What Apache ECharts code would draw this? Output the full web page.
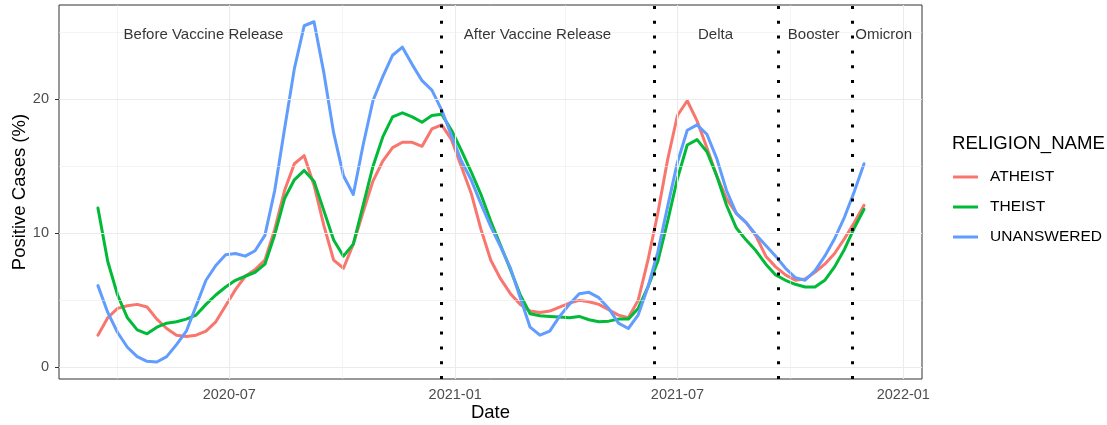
<!DOCTYPE html>
<html><head><meta charset="utf-8">
<script src="https://cdn.jsdelivr.net/npm/echarts@6/dist/echarts.min.js"></script>
<style>html,body{margin:0;padding:0;background:#fff}#c{width:1107px;height:425px}</style>
</head><body><div id="c"></div>
<script>
const dates = [
 '2020-03-16','2020-03-24','2020-04-01','2020-04-09','2020-04-17','2020-04-25','2020-05-03','2020-05-11','2020-05-19','2020-05-27',
 '2020-06-04','2020-06-12','2020-06-20','2020-06-28','2020-07-06','2020-07-14','2020-07-22','2020-07-30','2020-08-07','2020-08-15',
 '2020-08-23','2020-08-31','2020-09-08','2020-09-16','2020-09-24','2020-10-02','2020-10-10','2020-10-18','2020-10-26','2020-11-03',
 '2020-11-11','2020-11-19','2020-11-27','2020-12-05','2020-12-13','2020-12-21','2020-12-29','2021-01-06','2021-01-14','2021-01-22',
 '2021-01-30','2021-02-07','2021-02-15','2021-02-23','2021-03-03','2021-03-11','2021-03-19','2021-03-27','2021-04-04','2021-04-12',
 '2021-04-20','2021-04-28','2021-05-06','2021-05-14','2021-05-22','2021-05-30','2021-06-07','2021-06-15','2021-06-23','2021-07-01',
 '2021-07-09','2021-07-17','2021-07-25','2021-08-02','2021-08-10','2021-08-18','2021-08-26','2021-09-03','2021-09-11','2021-09-19',
 '2021-09-27','2021-10-05','2021-10-13','2021-10-21','2021-10-29','2021-11-06','2021-11-14','2021-11-22','2021-11-30'
];
const atheist = [
 2.4,3.7,4.4,4.6,4.7,4.5,3.6,2.9,2.4,2.3,
 2.4,2.7,3.4,4.6,5.8,6.8,7.3,8.0,10.3,13.2,
 15.2,15.8,13.6,10.6,8.0,7.4,9.2,11.6,13.9,15.4,
 16.4,16.8,16.8,16.5,17.8,18.1,17.0,15.0,13.0,10.3,
 8.0,6.6,5.5,4.7,4.2,4.1,4.2,4.5,4.8,5.0,
 4.9,4.7,4.3,3.9,3.7,5.0,8.0,11.5,15.5,18.8,
 19.9,18.4,16.4,14.3,12.6,11.5,10.8,9.8,8.3,7.5,
 6.9,6.5,6.6,7.1,7.7,8.5,9.6,10.8,12.1
];
const theist = [
 11.9,7.9,5.4,3.7,2.8,2.5,3.0,3.3,3.4,3.6,
 3.9,4.7,5.4,6.0,6.5,6.8,7.1,7.7,9.9,12.6,
 14.0,14.7,13.9,11.7,9.5,8.3,9.2,12.1,15.0,17.2,
 18.7,19.0,18.7,18.3,18.8,18.9,17.7,16.2,14.6,12.9,
 10.9,9.1,7.3,5.4,4.0,3.85,3.8,3.75,3.7,3.8,
 3.55,3.4,3.45,3.6,3.6,4.4,6.0,7.9,10.9,14.1,
 16.6,17.0,16.1,14.3,12.1,10.4,9.5,8.7,7.7,6.9,
 6.5,6.2,6.0,6.0,6.5,7.5,8.8,10.4,11.8
];
const unanswered = [
 6.1,4.1,2.6,1.5,0.8,0.45,0.4,0.8,1.7,2.7,
 4.6,6.5,7.6,8.4,8.5,8.3,8.7,9.85,13.2,17.8,
 22.3,25.5,25.8,22.0,17.5,14.3,12.9,16.6,19.9,21.7,
 23.3,23.9,22.6,21.4,20.7,19.2,17.3,15.4,14.0,12.2,
 10.5,9.0,7.4,5.2,3.0,2.4,2.7,3.8,4.7,5.5,
 5.6,5.2,4.4,3.3,2.9,3.9,6.0,8.6,12.0,15.3,
 17.7,18.1,17.4,15.6,13.2,11.5,10.8,9.9,9.1,8.3,
 7.4,6.7,6.5,7.2,8.3,9.6,11.2,13.1,15.2
];
const seriesNames = ['ATHEIST','THEIST','UNANSWERED'];
const seriesColors = ['#F8766D','#00BA38','#619CFF'];
const xMajorTicks = ['2020-07-01','2021-01-01','2021-07-01','2022-01-01'];
const xMinorGrid = ['2020-04-01','2020-10-01','2021-04-01','2021-10-01'];
const yMajorTicks = [0,10,20];
const yMinorGrid = [5,15,25];
const periodLines = ['2020-12-21','2021-06-12','2021-09-21','2021-11-20'];
const periodLabels = ['Before Vaccine Release','After Vaccine Release','Delta','Booster','Omicron'];
const periodLabelDates = ['2020-06-10','2021-03-09','2021-08-01','2021-10-20','2021-12-16'];
const periodLabelY = 25;
const xLimits = ['2020-02-13T07:00:00Z','2022-01-16T05:00:00Z'];
const yLimits = [-0.87, 27.05];

const ts = s => Date.parse(s.length === 10 ? s + 'T00:00:00Z' : s);
const pad = n => (n < 10 ? '0' : '') + n;
const FONT = '"Liberation Sans", Arial, sans-serif';

const chart = echarts.init(document.getElementById('c'), null, {renderer: 'canvas'});

const gridLines = [];
xMajorTicks.forEach(d => gridLines.push({xAxis: ts(d), lineStyle: {color: '#EBEBEB', width: 1.1, type: 'solid'}}));
xMinorGrid.forEach(d => gridLines.push({xAxis: ts(d), lineStyle: {color: '#EBEBEB', width: 0.55, type: 'solid'}}));
yMajorTicks.forEach(v => gridLines.push({yAxis: v, lineStyle: {color: '#EBEBEB', width: 1.1, type: 'solid'}}));
yMinorGrid.forEach(v => gridLines.push({yAxis: v, lineStyle: {color: '#EBEBEB', width: 0.55, type: 'solid'}}));

const dataSets = [atheist, theist, unanswered];
const lineSeries = dataSets.map((arr, i) => ({
  type: 'line', name: seriesNames[i], z: 3,
  data: dates.map((d, j) => [ts(d), arr[j]]),
  showSymbol: false, symbol: 'none', smooth: false,
  lineStyle: {color: seriesColors[i], width: 3, cap: 'round', join: 'round'},
  itemStyle: {color: seriesColors[i]}
}));

chart.setOption({
  animation: false,
  backgroundColor: '#fff',
  textStyle: {fontFamily: FONT},
  grid: {left: 59, right: 185, top: 5, bottom: 46, show: true, borderColor: '#333333', borderWidth: 1,
    backgroundColor: 'transparent', containLabel: false, outerBoundsMode: 'none'},
  xAxis: {
    type: 'value', min: ts(xLimits[0]), max: ts(xLimits[1]), scale: true,
    axisLine: {show: false},
    splitLine: {show: false}, minorSplitLine: {show: false},
    axisTick: {show: true, customValues: xMajorTicks.map(ts), length: 4, lineStyle: {color: '#333333', width: 1}},
    axisLabel: {customValues: xMajorTicks.map(ts), margin: 8, fontSize: 14.5, color: '#4D4D4D', fontFamily: FONT,
      formatter: v => { const d = new Date(v); return d.getUTCFullYear() + '-' + pad(d.getUTCMonth() + 1); }},
    name: 'Date', nameLocation: 'middle', nameGap: 24.5, nameMoveOverlap: false,
    nameTextStyle: {fontSize: 18.5, color: '#000', fontFamily: FONT}
  },
  yAxis: {
    type: 'value', min: yLimits[0], max: yLimits[1],
    axisLine: {show: false},
    splitLine: {show: false},
    axisTick: {show: true, customValues: yMajorTicks, length: 4, lineStyle: {color: '#333333', width: 1}},
    axisLabel: {customValues: yMajorTicks, margin: 10, fontSize: 14.5, color: '#4D4D4D', fontFamily: FONT},
    name: 'Positive Cases (%)', nameLocation: 'middle', nameGap: 29.5, nameMoveOverlap: false,
    nameTextStyle: {fontSize: 18.5, color: '#000', fontFamily: FONT}
  },
  legend: {
    data: seriesNames, orient: 'vertical', left: 953, top: 169, padding: 0,
    itemWidth: 25, itemHeight: 3, itemGap: 14, icon: 'rect',
    textStyle: {fontSize: 15.5, color: '#000', fontFamily: FONT, lineHeight: 16, padding: [0, 0, 0, 7]},
    selectedMode: false
  },
  graphic: [{
    type: 'text', left: 952, top: 134,
    style: {text: 'RELIGION_NAME', fontSize: 18.6, fill: '#000', fontFamily: FONT}
  }],
  series: [
    {type: 'line', name: '_grid', data: [], z: 1, silent: true,
      markLine: {silent: true, symbol: 'none', animation: false, label: {show: false}, data: gridLines}},
    ...lineSeries,
    {type: 'line', name: '_periods', data: [], z: 5, silent: true,
      markLine: {silent: true, symbol: 'none', animation: false, label: {show: false},
        lineStyle: {color: '#000', width: 3, type: [3, 11.8], cap: 'butt'},
        data: periodLines.map(d => ({xAxis: ts(d)}))}},
    {type: 'scatter', name: '_labels', z: 6, silent: true, symbolSize: 1,
      itemStyle: {color: 'rgba(0,0,0,0)'},
      data: periodLabelDates.map((d, i) => ({value: [ts(d), periodLabelY], name: periodLabels[i]})),
      label: {show: true, position: 'inside', offset: [0, 2], formatter: '{b}', fontSize: 15, color: '#000', fontFamily: FONT}}
  ]
});
</script></body></html>
